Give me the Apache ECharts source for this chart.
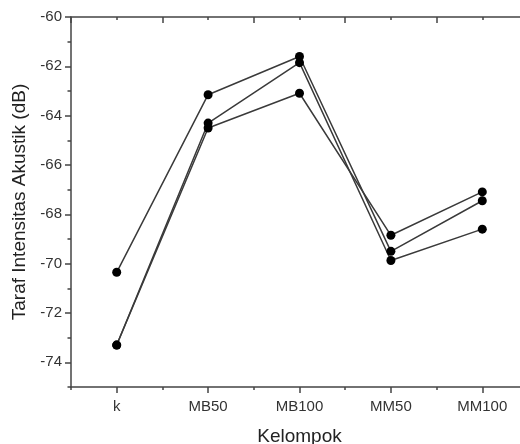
<!DOCTYPE html>
<html>
<head>
<meta charset="utf-8">
<script src="https://cdn.jsdelivr.net/npm/echarts@6/dist/echarts.min.js"></script>
<style>
  html, body { margin: 0; padding: 0; background: #fff; }
  #main { width: 520px; height: 444px; }
</style>
</head>
<body>
<div id="main"></div>
<script>
const categories = ['k', 'MB50', 'MB100', 'MM50', 'MM100']
const seriesA = [-70.35, -63.15, -61.6, -69.5, -67.45]
const seriesB = [-73.3, -64.3, -61.85, -69.87, -68.6]
const seriesC = [-73.3, -64.5, -63.09, -68.85, -67.09]
const yTickLabels = [-74, -72, -70, -68, -66, -64, -62, -60]

const myChart = echarts.init(document.getElementById('main'))
const font = 'Liberation Sans, Arial, sans-serif'
const axisLine = { show: true, lineStyle: { color: '#444', width: 1.5 } }
const tickStyle = { color: '#444', width: 1.5 }

const makeSeries = (data) => ({
  type: 'line',
  data: data,
  xAxisIndex: 0,
  yAxisIndex: 0,
  symbol: 'circle',
  symbolSize: 9,
  itemStyle: { color: '#000' },
  lineStyle: { color: '#3a3a3a', width: 1.5 },
  animation: false
})

const option = {
  backgroundColor: '#fff',
  grid: { left: 71, top: 17, width: 457, height: 370, outerBoundsMode: 'none', containLabel: false },
  xAxis: [
    {
      type: 'category',
      position: 'bottom',
      data: categories,
      boundaryGap: true,
      axisLine: axisLine,
      axisTick: { show: true, alignWithLabel: true, length: 6, lineStyle: tickStyle },
      axisLabel: { fontFamily: font, fontSize: 15, color: '#333', margin: 12 },
      name: 'Kelompok',
      nameLocation: 'middle',
      nameGap: 40,
      nameTextStyle: { fontFamily: font, fontSize: 19, color: '#222' }
    },
    {
      type: 'category',
      position: 'bottom',
      data: categories,
      boundaryGap: true,
      axisLine: { show: false },
      axisTick: { show: true, length: 3, lineStyle: tickStyle },
      axisLabel: { show: false }
    },
    {
      type: 'category',
      position: 'top',
      data: categories,
      boundaryGap: true,
      axisLine: axisLine,
      axisTick: { show: true, inside: true, length: 6, lineStyle: tickStyle },
      axisLabel: { show: false }
    },
    {
      type: 'category',
      position: 'top',
      data: categories,
      boundaryGap: true,
      axisLine: { show: false },
      axisTick: { show: true, inside: true, alignWithLabel: true, length: 3, lineStyle: tickStyle },
      axisLabel: { show: false }
    }
  ],
  yAxis: [
    {
      type: 'value',
      position: 'left',
      min: -75,
      max: -60,
      interval: 1,
      splitLine: { show: false },
      axisLine: axisLine,
      axisTick: { show: true, length: 3.5, lineStyle: tickStyle },
      axisLabel: {
        fontFamily: font, fontSize: 15, color: '#333', margin: 9,
        customValues: yTickLabels
      },
      name: 'Taraf Intensitas Akustik (dB)',
      nameLocation: 'middle',
      nameGap: 34,
      nameTextStyle: { fontFamily: font, fontSize: 19, color: '#222' }
    },
    {
      type: 'value',
      position: 'left',
      min: -75,
      max: -60,
      interval: 1,
      splitLine: { show: false },
      axisLine: { show: false },
      axisTick: { show: true, length: 6, lineStyle: tickStyle, customValues: yTickLabels },
      axisLabel: { show: false }
    }
  ],
  series: [makeSeries(seriesA), makeSeries(seriesB), makeSeries(seriesC)]
}
myChart.setOption(option)
</script>
</body>
</html>
